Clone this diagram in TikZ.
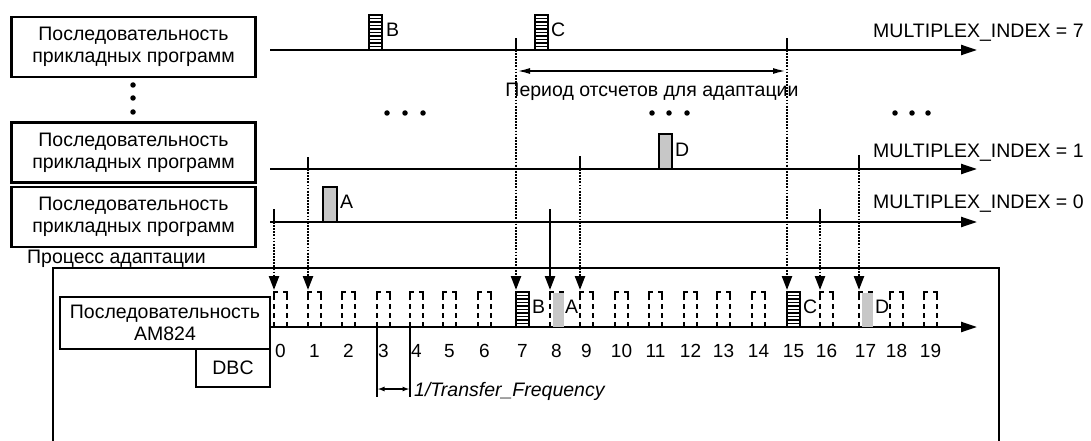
\documentclass[tikz,border=0pt]{standalone}
\usepackage{fontspec}
\setmainfont{Liberation Sans}
\usetikzlibrary{arrows.meta,calc}
\newcommand\lf{\fontsize{19.5}{22}\selectfont}
\newcommand\nf{\fontsize{19}{22}\selectfont}
\begin{document}
\begin{tikzpicture}[x=1pt,y=-1pt,
  txt/.style={font=\lf, inner sep=0pt},
  seqbox/.style={draw, line width=2.7pt, minimum width=244pt, minimum height=60pt, align=center, font=\lf, inner sep=0pt},
  tline/.style={line width=2.3pt, -{Triangle[length=16pt,width=10pt]}},
  tickln/.style={line width=2.3pt},
  dotarr/.style={line width=2.3pt, dash pattern=on 1.8pt off 1.3pt, shorten >=2pt, -{Triangle[length=14pt,width=10pt]}},
  solarr/.style={line width=2.3pt, shorten >=2pt, -{Triangle[length=14pt,width=10pt]}},
  slotln/.style={line width=2pt},
  dotc/.style={fill, circle, inner sep=0pt, minimum size=5.5pt},
  grayblk/.style={fill=black!22, draw, line width=1.8pt},
  hatchblk/.pic={
    \fill[white] (0,0) rectangle (13,35);
    \foreach \k in {1,...,9} \draw[line width=1.6pt] (0,{3.5*\k}) -- (13,{3.5*\k});
    \draw[line width=1.8pt] (0,0) rectangle (13,35);
  },
]
\useasboundingbox (0,0) rectangle (1091,441);

% left sequence boxes
\node[seqbox] (p7) at (133.5,47) {Последовательность\\прикладных программ};
\node[seqbox] (p1) at (133.5,152.5) {Последовательность\\прикладных программ};
\node[seqbox] (p0) at (133.5,217) {Последовательность\\прикладных программ};
\node[dotc] (vd1) at (133,85) {};
\node[dotc] (vd2) at (133,98) {};
\node[dotc] (vd3) at (133,112) {};

% timelines
\coordinate (L7) at (270,50);  \coordinate (E7) at (977,50);
\coordinate (L1) at (270,169); \coordinate (E1) at (977,169);
\coordinate (L0) at (270,222); \coordinate (E0) at (977,222);
\draw[tline] (L7) -- (E7);
\draw[tline] (L1) -- (E1);
\draw[tline] (L0) -- (E0);
\node[txt, anchor=base west] (m7) at (873,38) {MULTIPLEX\_INDEX = 7};
\node[txt, anchor=base west] (m1) at (873,157) {MULTIPLEX\_INDEX = 1};
\node[txt, anchor=base west] (m0) at (873,208) {MULTIPLEX\_INDEX = 0};

% application blocks
\pic at (369,15) {hatchblk};
\node[txt, anchor=base west] (lB) at (386,37) {B};
\pic at (535,15) {hatchblk};
\node[txt, anchor=base west] (lC) at (551,37) {C};
\draw[grayblk] (323,187) rectangle (337,222);
\node[txt, anchor=base west] (lA) at (340,208) {A};
\draw[grayblk] (659,134) rectangle (672,169);
\node[txt, anchor=base west] (lD) at (675,156) {D};

% dots
\foreach \xx [count=\n] in {387,405,423,652,669,687,895,912,928}
  \node[dotc] (hd\n) at (\xx,113) {};

% process box
\node[txt, anchor=base west] (proc) at (27,263) {Процесс адаптации};
\draw[line width=2.4pt] (53,445) -- (53,268) -- (999,268) -- (999,445);
\node[draw, line width=2.7pt, minimum width=210pt, minimum height=52pt, align=center, font=\lf, inner sep=0pt] (am) at (165,323) {Последовательность\\AM824};
\node[draw, line width=2.7pt, minimum width=74pt, minimum height=38pt, font=\lf, inner sep=0pt] (dbc) at (233,368) {DBC};
\coordinate (ax0) at (270,327); \coordinate (ax1) at (977,327);
\draw[tline] (ax0) -- (ax1);

% slots
\foreach \i/\xx in {0/274,1/308,2/342,3/377,4/410,5/443,6/478,7/516,8/550,9/580,10/615,11/649,12/684,13/717,14/752,15/787,16/820,17/859,18/890,19/924}{
  \coordinate (s\i) at (\xx,292);
  \node[font=\nf, inner sep=0pt, anchor=base] (n\i) at (\xx+6.5,357) {\i};
}
\foreach \i in {0,1,2,3,4,5,6,8,9,10,11,12,13,14,16,17,18,19}{
  \draw[slotln] ($(s\i)+(0,8)$) -- (s\i) -- ++(4,0);
  \draw[slotln] ($(s\i)+(9,0)$) -- ++(4,0) -- ++(0,8);
  \draw[slotln, dash pattern=on 5pt off 4pt] ($(s\i)+(0,12)$) -- ++(0,23);
  \draw[slotln, dash pattern=on 5pt off 4pt] ($(s\i)+(13,12)$) -- ++(0,23);
}
\pic at (s7) {hatchblk};
\pic at (s15) {hatchblk};
\fill[black!22] ($(s8)+(2.5,1)$) rectangle ($(s8)+(13.5,35)$);
\fill[black!22] ($(s17)+(2.5,1)$) rectangle ($(s17)+(13.5,35)$);
\node[txt, anchor=base west] (sB) at (532,313) {B};
\node[txt, anchor=base west] (sA) at (565,313) {A};
\node[txt, anchor=base west] (sC) at (803,313) {C};
\node[txt, anchor=base west] (sD) at (875,313) {D};

% ticks and arrows
\draw[tickln] (s7 |- L7) -- ++(0,-12);
\draw[tickln] (s15 |- L7) -- ++(0,-12);
\draw[tickln] (s1 |- L1) -- ++(0,-12);
\draw[tickln] (s9 |- L1) -- ++(0,-13);
\draw[tickln] (s17 |- L1) -- ++(0,-14);
\draw[tickln] (s0 |- L0) -- ++(0,-13);
\draw[tickln] (s16 |- L0) -- ++(0,-13);
\draw[dotarr] (s7 |- L7) -- (s7);
\draw[dotarr] (s15 |- L7) -- (s15);
\draw[dotarr] (s1 |- L1) -- (s1);
\draw[dotarr] (s9 |- L1) -- (s9);
\draw[dotarr] (s17 |- L1) -- (s17);
\draw[dotarr] (s0 |- L0) -- (s0);
\draw[dotarr] (s16 |- L0) -- (s16);
\draw[solarr] ($(s8 |- L0)+(0,-13)$) -- (s8);

% sampling period
\draw[line width=1.8pt, {Latex[length=13pt,width=6pt]}-{Latex[length=13pt,width=6pt]}] ($(s7 |- L7)+(1,21)$) -- ($(s15 |- L7)+(-1,21)$);
\node[txt, anchor=base] (per) at (652,96) {Период отсчетов для адаптации};

% transfer frequency
\draw[line width=1.2pt] (s3 |- ax0) -- ++(0,70);
\draw[line width=1.2pt] (s4 |- ax0) -- ++(0,70);
\draw[line width=1.3pt, {Latex[length=7pt,width=5pt]}-{Latex[length=7pt,width=5pt]}] ($(s3 |- ax0)+(0.5,62)$) -- ($(s4 |- ax0)+(-0.5,62)$);
\node[txt, anchor=base west, font=\lf\itshape] (tf) at (414,396) {1/Transfer\_Frequency};
\end{tikzpicture}
\end{document}
